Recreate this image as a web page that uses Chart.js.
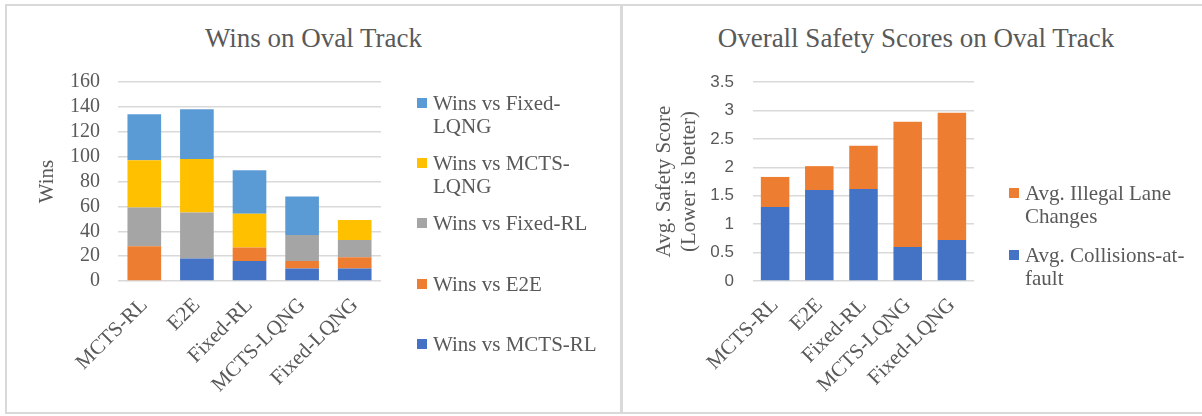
<!DOCTYPE html>
<html>
<head>
<meta charset="utf-8">
<script src="https://cdn.jsdelivr.net/npm/chart.js@4.4.0/dist/chart.umd.min.js"></script>
<style>
  body { margin: 0; background: #fff; width: 1202px; height: 416px; position: relative; overflow: hidden; }
  .panel { position: absolute; border: 2px solid #d9d9d9; box-sizing: border-box; }
  .title { position: absolute; font-family: "Liberation Serif", serif; font-size: 27px; line-height: 32px; color: #595959; text-align: center; white-space: nowrap; }
  .legend-item { position: absolute; font-family: "Liberation Serif", serif; font-size: 21px; line-height: 23px; color: #595959; }
  .legend-item .box { position: absolute; width: 10px; height: 10px; top: 6px; }
  canvas { position: absolute; }
</style>
</head>
<body>
<div class="panel" style="left:5px;top:4px;width:617px;height:410px;"></div>
<div class="panel" style="left:621px;top:4px;width:584px;height:410px;"></div>
<div class="title" style="left:5px;width:617px;top:22px;">Wins on Oval Track</div>
<div class="title" style="left:623px;width:586px;top:22px;">Overall Safety Scores on Oval Track</div>
<div style="position:absolute;left:5px;top:4px;width:616px;height:408px;"><canvas id="winsChart"></canvas></div>
<div style="position:absolute;left:623px;top:4px;width:578px;height:408px;"><canvas id="safetyChart"></canvas></div>
<div id="winsLegend"></div>
<div id="safetyLegend"></div>
<script>
// data
const agents = ["MCTS-RL", "E2E", "Fixed-RL", "MCTS-LQNG", "Fixed-LQNG"];

const winsVsMctsRl    = [0, 18, 16, 10, 10];
const winsVsE2e       = [28, 0, 11, 6, 9];
const winsVsFixedRl   = [31, 37, 0, 21, 14];
const winsVsMctsLqng  = [38, 43, 27, 0, 16];
const winsVsFixedLqng = [37, 40, 35, 31, 0];
const winsTicks = [0, 20, 40, 60, 80, 100, 120, 140, 160];

const collisions   = [1.3, 1.6, 1.62, 0.6, 0.72];
const illegalLanes = [0.53, 0.42, 0.76, 2.2, 2.24];
const safetyTicks = [0, 0.5, 1, 1.5, 2, 2.5, 3, 3.5];

const textColor = "#595959";
const gridColor = "#d9d9d9";
const serif = "'Liberation Serif', 'Times New Roman', serif";

function fixWidth(w) { return (s) => { s.width = w; }; }
function fixHeight(h) { return (s) => { s.height = h; }; }

const winsChart = new Chart(document.getElementById("winsChart"), {
  type: "bar",
  data: {
    labels: agents,
    datasets: [
      { label: "Wins vs MCTS-RL", data: winsVsMctsRl, backgroundColor: "#4472C4" },
      { label: "Wins vs E2E", data: winsVsE2e, backgroundColor: "#ED7D31" },
      { label: "Wins vs Fixed-RL", data: winsVsFixedRl, backgroundColor: "#A5A5A5" },
      { label: "Wins vs MCTS-LQNG", data: winsVsMctsLqng, backgroundColor: "#FFC000" },
      { label: "Wins vs Fixed-LQNG", data: winsVsFixedLqng, backgroundColor: "#5B9BD5" },
    ],
  },
  options: {
    responsive: true,
    maintainAspectRatio: false,
    animation: false,
    layout: { padding: { left: 0, right: 240, top: 78, bottom: 0 } },
    datasets: { bar: { categoryPercentage: 1, barPercentage: 0.64 } },
    plugins: { legend: { display: false }, tooltip: { enabled: false } },
    scales: {
      x: {
        stacked: true,
        afterFit: fixHeight(131),
        grid: { display: false },
        border: { display: false },
        ticks: { color: textColor, font: { family: serif, size: 21 }, minRotation: 45, maxRotation: 45, padding: 4 },
      },
      y: {
        stacked: true,
        min: 0, max: 160,
        afterFit: fixWidth(113),
        afterBuildTicks: (s) => { s.ticks = winsTicks.map(v => ({ value: v })); },
        grid: { color: gridColor, lineWidth: 1.5, drawTicks: false },
        border: { display: false },
        ticks: { color: textColor, font: { family: serif, size: 20 }, padding: 18, autoSkip: false, callback: (v) => String(v) },
        title: { display: true, text: "Wins", color: textColor, font: { family: serif, size: 21 }, padding: { top: 30, bottom: 0 } },
      },
    },
  },
});

const safetyChart = new Chart(document.getElementById("safetyChart"), {
  type: "bar",
  data: {
    labels: agents,
    datasets: [
      { label: "Avg. Collisions-at-fault", data: collisions, backgroundColor: "#4472C4" },
      { label: "Avg. Illegal Lane Changes", data: illegalLanes, backgroundColor: "#ED7D31" },
    ],
  },
  options: {
    responsive: true,
    maintainAspectRatio: false,
    animation: false,
    layout: { padding: { left: 0, right: 227, top: 78, bottom: 0 } },
    datasets: { bar: { categoryPercentage: 1, barPercentage: 0.645 } },
    plugins: { legend: { display: false }, tooltip: { enabled: false } },
    scales: {
      x: {
        stacked: true,
        afterFit: fixHeight(131),
        grid: { display: false },
        border: { display: false },
        ticks: { color: textColor, font: { family: serif, size: 21 }, minRotation: 45, maxRotation: 45, padding: 4 },
      },
      y: {
        stacked: true,
        min: 0, max: 3.5,
        afterFit: fixWidth(130),
        afterBuildTicks: (s) => { s.ticks = safetyTicks.map(v => ({ value: v })); },
        grid: { color: gridColor, lineWidth: 1.5, drawTicks: false },
        border: { display: false },
        ticks: { color: textColor, font: { family: "'Liberation Sans', sans-serif", size: 17 }, padding: 19, autoSkip: false, callback: (v) => String(v) },
        title: {
          display: true,
          text: ["Avg. Safety Score", "(Lower is better)"],
          color: textColor,
          font: { family: serif, size: 21 },
          padding: { top: 29, bottom: 0 },
        },
      },
    },
  },
});

// legends drawn in HTML so the long labels can wrap like the original
function buildLegend(chart, holderId, left, tops) {
  const holder = document.getElementById(holderId);
  const sets = chart.data.datasets.slice().reverse();
  sets.forEach((ds, i) => {
    const item = document.createElement("div");
    item.className = "legend-item";
    item.style.left = left + "px";
    item.style.top = (tops[i] - 11) + "px";
    item.style.width = "190px";
    item.innerHTML = `<span class="box" style="left:0;background:${ds.backgroundColor}"></span>` +
      `<div style="margin-left:16px;width:170px">${ds.label}</div>`;
    holder.appendChild(item);
  });
}
buildLegend(winsChart, "winsLegend", 417, [103, 163, 223, 284, 344]);
buildLegend(safetyChart, "safetyLegend", 1009, [193, 255]);
</script>
</body>
</html>
